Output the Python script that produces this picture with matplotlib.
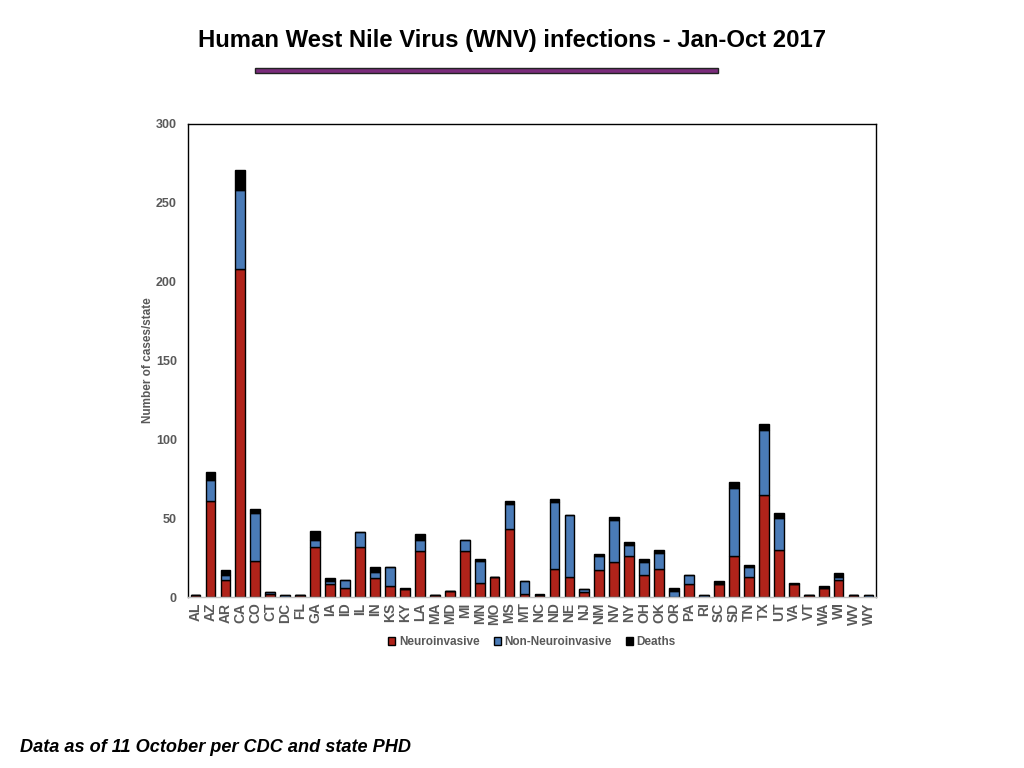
import matplotlib
matplotlib.use("Agg")
import matplotlib.pyplot as plt
import numpy as np

plt.rcParams['font.family'] = ['Liberation Sans', 'DejaVu Sans']

states = ["AL", "AZ", "AR", "CA", "CO", "CT", "DC", "FL", "GA", "IA", "ID", "IL", "IN",
          "KS", "KY", "LA", "MA", "MD", "MI", "MN", "MO", "MS", "MT", "NC", "ND", "NE",
          "NJ", "NM", "NV", "NY", "OH", "OK", "OR", "PA", "RI", "SC", "SD", "TN", "TX",
          "UT", "VA", "VT", "WA", "WI", "WV", "WY"]
neuro = [1, 61, 11, 208, 23, 2, 0, 1, 32, 8, 6, 32, 12,
         7, 5, 29, 1, 4, 29, 9, 13, 43, 2, 1, 18, 13,
         3, 17, 22, 26, 14, 18, 0, 8, 0, 8, 26, 13, 65,
         30, 8, 1, 6, 11, 1, 0]
non_neuro = [0, 13, 3, 50, 30, 1, 1, 0, 4, 2, 5, 9, 4,
             12, 0, 7, 0, 0, 7, 14, 0, 16, 8, 0, 42, 39,
             2, 9, 27, 7, 8, 10, 4, 6, 1, 0, 43, 6, 41,
             20, 0, 0, 0, 2, 0, 1]
deaths = [0, 5, 3, 13, 3, 0, 0, 0, 6, 2, 0, 0, 3,
          0, 1, 4, 0, 0, 0, 1, 0, 2, 0, 1, 2, 0,
          0, 1, 2, 2, 2, 2, 2, 0, 0, 2, 4, 1, 4,
          3, 1, 0, 1, 2, 0, 0]

RED = "#B0231A"
BLUE = "#4A7BB7"
GRAY = "#595959"

fig = plt.figure(figsize=(10.24, 7.68), dpi=100)
ax = fig.add_axes([188 / 1024, 1 - 597 / 768, (876 - 188) / 1024, (597 - 124) / 768])

x = np.arange(len(states))
neuro = np.array(neuro)
non_neuro = np.array(non_neuro)
deaths = np.array(deaths)
w = 0.65
ax.bar(x, neuro, w, color=RED, edgecolor="black", linewidth=1, label="Neuroinvasive")
ax.bar(x, non_neuro, w, bottom=neuro, color=BLUE, edgecolor="black", linewidth=1,
       label="Non-Neuroinvasive")
ax.bar(x, deaths, w, bottom=neuro + non_neuro, color="black", edgecolor="black",
       linewidth=1, label="Deaths")

ax.set_xlim(-0.5, len(states) - 0.5)
ax.set_ylim(0, 300)
ax.set_yticks(range(0, 301, 50))
ax.set_xticks(x)
ax.set_xticklabels(states, rotation=90, fontsize=10, fontweight="bold", color=GRAY)
ax.tick_params(axis="y", length=0, labelsize=9, labelcolor=GRAY, pad=8)
ax.tick_params(axis="x", length=0, pad=4)
for lab in ax.get_yticklabels():
    lab.set_fontweight("bold")
for s in ax.spines.values():
    s.set_color("black")
    s.set_linewidth(1)
ax.spines["bottom"].set_color("#BFBFBF")
ax.set_ylabel("Number of cases/state", fontsize=8.5, fontweight="bold", color=GRAY)
ax.yaxis.set_label_coords(-0.05, 0.5)

leg = ax.legend(loc="upper center", bbox_to_anchor=(0.5, -0.06), ncol=3, frameon=False,
                fontsize=8.5, handlelength=0.6, handleheight=0.6, handletextpad=0.3,
                columnspacing=1.2)
for t in leg.get_texts():
    t.set_color(GRAY)
    t.set_fontweight("bold")

fig.text(0.5, 1 - 40 / 768, "Human West Nile Virus (WNV) infections - Jan-Oct 2017",
         ha="center", va="center", fontsize=17.2, fontweight="bold")
fig.add_artist(plt.Rectangle((255 / 1024, 1 - 73 / 768), (718 - 255) / 1024, 5 / 768,
                             facecolor="#7A2C7B", edgecolor="#222222", linewidth=1,
                             transform=fig.transFigure))
fig.text(20 / 1024, 1 - 748 / 768, "Data as of 11 October per CDC and state PHD",
         ha="left", va="center", fontsize=13.1, fontweight="bold", fontstyle="italic")

fig.savefig("out.png", dpi=100)
